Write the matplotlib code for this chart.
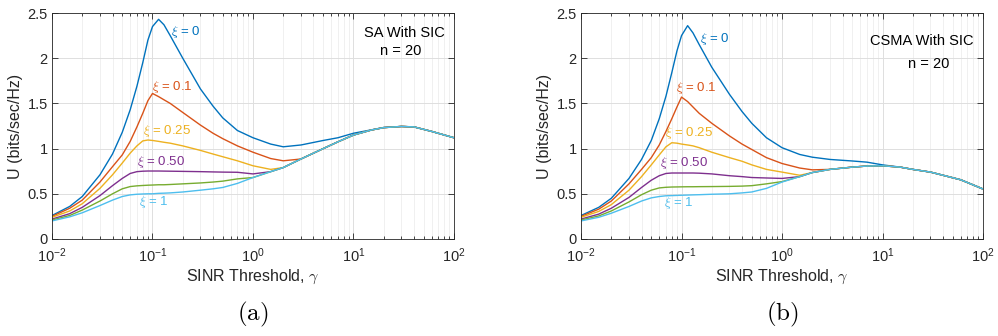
import matplotlib
matplotlib.use("Agg")
import matplotlib.pyplot as plt
from matplotlib.ticker import FixedLocator, FixedFormatter, LogLocator, NullFormatter


plt.rcParams["font.family"] = ["Liberation Sans", "DejaVu Sans"]
plt.rcParams["mathtext.fontset"] = "cm"

# SINR threshold sample points
GAMMA = [0.01, 0.015, 0.02, 0.03, 0.04, 0.05, 0.06, 0.07, 0.08, 0.09,
         0.1, 0.115, 0.13, 0.15, 0.2, 0.3, 0.4, 0.5, 0.7, 1,
         1.5, 2, 3, 5, 7, 10, 15, 20, 30, 40, 60, 100]

# (a) SA with SIC
SA_XI_0 = [0.26, 0.36, 0.47, 0.71, 0.94, 1.18, 1.43, 1.69, 1.95, 2.20,
           2.35, 2.43, 2.37, 2.25, 2.00, 1.66, 1.47, 1.34, 1.20, 1.12,
           1.05, 1.02, 1.04, 1.09, 1.12, 1.17, 1.207, 1.234, 1.245, 1.24, 1.19, 1.12]
SA_XI_01 = [0.25, 0.34, 0.43, 0.63, 0.80, 0.93, 1.08, 1.24, 1.39, 1.53,
            1.61, 1.575, 1.54, 1.50, 1.40, 1.26, 1.17, 1.11, 1.03, 0.96,
            0.89, 0.865, 0.885, 1.00, 1.075, 1.15, 1.205, 1.232, 1.245, 1.24, 1.19, 1.12]
SA_XI_025 = [0.24, 0.31, 0.39, 0.56, 0.71, 0.84, 0.95, 1.03, 1.085, 1.095,
             1.09, 1.08, 1.07, 1.06, 1.03, 0.98, 0.94, 0.91, 0.865, 0.81,
             0.77, 0.79, 0.885, 1.00, 1.075, 1.15, 1.205, 1.232, 1.245, 1.24, 1.19, 1.12]
SA_XI_050 = [0.22, 0.28, 0.35, 0.48, 0.59, 0.67, 0.725, 0.745, 0.75, 0.752,
             0.752, 0.752, 0.751, 0.75, 0.748, 0.745, 0.742, 0.74, 0.738, 0.72,
             0.745, 0.79, 0.885, 1.00, 1.075, 1.15, 1.205, 1.232, 1.245, 1.24, 1.19, 1.12]
SA_XI_075 = [0.21, 0.26, 0.32, 0.42, 0.50, 0.555, 0.58, 0.588, 0.592, 0.595,
             0.597, 0.60, 0.60, 0.603, 0.61, 0.62, 0.63, 0.64, 0.665, 0.68,
             0.745, 0.79, 0.885, 1.00, 1.075, 1.15, 1.205, 1.232, 1.245, 1.24, 1.19, 1.12]
SA_XI_1 = [0.20, 0.245, 0.29, 0.37, 0.43, 0.47, 0.488, 0.495, 0.498, 0.50,
           0.50, 0.505, 0.507, 0.51, 0.52, 0.54, 0.555, 0.57, 0.615, 0.68,
           0.745, 0.79, 0.885, 1.00, 1.075, 1.15, 1.205, 1.232, 1.245, 1.24, 1.19, 1.12]

# (b) CSMA with SIC
CSMA_XI_0 = [0.26, 0.35, 0.45, 0.67, 0.88, 1.09, 1.33, 1.58, 1.84, 2.08,
             2.25, 2.36, 2.28, 2.15, 1.90, 1.60, 1.41, 1.28, 1.12, 1.01,
             0.935, 0.905, 0.88, 0.863, 0.85, 0.82, 0.795, 0.77, 0.74, 0.705, 0.655, 0.553]
CSMA_XI_01 = [0.25, 0.33, 0.42, 0.61, 0.77, 0.90, 1.04, 1.19, 1.33, 1.46,
              1.57, 1.52, 1.46, 1.39, 1.28, 1.14, 1.05, 0.99, 0.90, 0.835,
              0.785, 0.765, 0.77, 0.795, 0.807, 0.81, 0.795, 0.77, 0.74, 0.705, 0.655, 0.553]
CSMA_XI_025 = [0.24, 0.305, 0.38, 0.54, 0.69, 0.82, 0.93, 1.02, 1.065, 1.06,
               1.05, 1.04, 1.03, 1.01, 0.96, 0.90, 0.86, 0.82, 0.77, 0.74,
               0.705, 0.735, 0.77, 0.795, 0.807, 0.81, 0.795, 0.77, 0.74, 0.705, 0.655, 0.553]
CSMA_XI_050 = [0.22, 0.275, 0.34, 0.46, 0.57, 0.65, 0.70, 0.725, 0.73, 0.73,
               0.73, 0.73, 0.73, 0.728, 0.72, 0.70, 0.69, 0.68, 0.675, 0.67,
               0.69, 0.735, 0.77, 0.795, 0.807, 0.81, 0.795, 0.77, 0.74, 0.705, 0.655, 0.553]
CSMA_XI_075 = [0.21, 0.255, 0.31, 0.41, 0.49, 0.54, 0.565, 0.572, 0.575, 0.576,
               0.577, 0.578, 0.578, 0.579, 0.58, 0.582, 0.585, 0.59, 0.61, 0.635,
               0.69, 0.735, 0.77, 0.795, 0.807, 0.81, 0.795, 0.77, 0.74, 0.705, 0.655, 0.553]
CSMA_XI_1 = [0.20, 0.24, 0.285, 0.36, 0.42, 0.455, 0.47, 0.478, 0.48, 0.482,
             0.484, 0.486, 0.488, 0.49, 0.495, 0.50, 0.51, 0.52, 0.56, 0.63,
             0.69, 0.735, 0.77, 0.795, 0.807, 0.81, 0.795, 0.77, 0.74, 0.705, 0.655, 0.553]

COLORS = ["#0072BD", "#D95319", "#EDB120", "#7E2F8E", "#77AC30", "#4DBEEE"]
XI_LABELS = ["0", "0.1", "0.25", "0.50", None, "1"]

# label anchor points (gamma, U) for each labelled curve
SA_LABEL_POS = [(0.153, 2.29), (0.099, 1.68), (0.080, 1.19), (0.0706, 0.85), None, (0.074, 0.41)]
CSMA_LABEL_POS = [(0.153, 2.21), (0.088, 1.67), (0.0686, 1.17), (0.0611, 0.84), None, (0.067, 0.40)]

X_TICKS = [0.01, 0.1, 1, 10, 100]
X_TICK_LABELS = [r"$\mathregular{10^{-2}}$", r"$\mathregular{10^{-1}}$", r"$\mathregular{10^{0}}$",
                 r"$\mathregular{10^{1}}$", r"$\mathregular{10^{2}}$"]
Y_TICKS = [0, 0.5, 1, 1.5, 2, 2.5]
Y_TICK_LABELS = ["0", "0.5", "1", "1.5", "2", "2.5"]


def draw_panel(ax, series, label_pos, title, title_xy, n_xy, tag):
    for values, color in zip(series, COLORS):
        ax.plot(GAMMA, values, color=color, lw=1.0)

    for pos, text, color in zip(label_pos, XI_LABELS, COLORS):
        if pos is None:
            continue
        ax.text(pos[0], pos[1], r"$\xi$ = " + text, color=color, fontsize=9.5,
                ha="left", va="center")

    ax.set_xscale("log")
    ax.set_xlim(0.01, 100)
    ax.set_ylim(0, 2.5)
    ax.xaxis.set_major_locator(FixedLocator(X_TICKS))
    ax.xaxis.set_major_formatter(FixedFormatter(X_TICK_LABELS))
    ax.xaxis.set_minor_locator(LogLocator(base=10, subs=range(2, 10), numticks=20))
    ax.xaxis.set_minor_formatter(NullFormatter())
    ax.yaxis.set_major_locator(FixedLocator(Y_TICKS))
    ax.yaxis.set_major_formatter(FixedFormatter(Y_TICK_LABELS))

    ax.set_axisbelow(True)
    ax.grid(which="major", color="#dedede", lw=0.7)
    ax.grid(which="minor", axis="x", color="#eeeeee", lw=0.6)
    ax.tick_params(which="both", direction="in", top=True, right=True,
                   colors="#262626", labelsize=10.5, width=0.6)
    ax.tick_params(which="major", length=4)
    ax.tick_params(which="minor", length=2)
    ax.tick_params(axis="x", which="major", pad=5)
    ax.tick_params(axis="y", which="major", pad=3)
    for spine in ax.spines.values():
        spine.set_color("#262626")
        spine.set_linewidth(0.6)

    ax.set_xlabel(r"SINR Threshold, $\gamma$", fontsize=11.5, color="#262626", labelpad=2)
    ax.set_ylabel("U (bits/sec/Hz)", fontsize=11.5, color="#262626", labelpad=3)

    ax.text(title_xy[0], title_xy[1], title, transform=ax.transAxes, fontsize=10.5,
            ha="center", va="center", color="black")
    ax.text(n_xy[0], n_xy[1], "n = 20", transform=ax.transAxes, fontsize=10.5,
            ha="center", va="center", color="black")
    ax.text(0.5, -0.336, r"$\mathrm{(" + tag + ")}$", transform=ax.transAxes,
            fontsize=18, ha="center", va="center")


def main():
    fig = plt.figure(figsize=(9.98, 3.36), dpi=100)
    ax_a = fig.add_axes([0.0521, 0.2887, 0.4028, 0.6726])
    ax_b = fig.add_axes([0.5822, 0.2887, 0.4028, 0.6726])

    draw_panel(ax_a, [SA_XI_0, SA_XI_01, SA_XI_025, SA_XI_050, SA_XI_075, SA_XI_1],
               SA_LABEL_POS, "SA With SIC", (0.876, 0.912), (0.867, 0.834), "a")
    draw_panel(ax_b, [CSMA_XI_0, CSMA_XI_01, CSMA_XI_025, CSMA_XI_050, CSMA_XI_075, CSMA_XI_1],
               CSMA_LABEL_POS, "CSMA With SIC", (0.848, 0.878), (0.864, 0.774), "b")

    fig.savefig("out.png", dpi=100)


if __name__ == "__main__":
    main()
